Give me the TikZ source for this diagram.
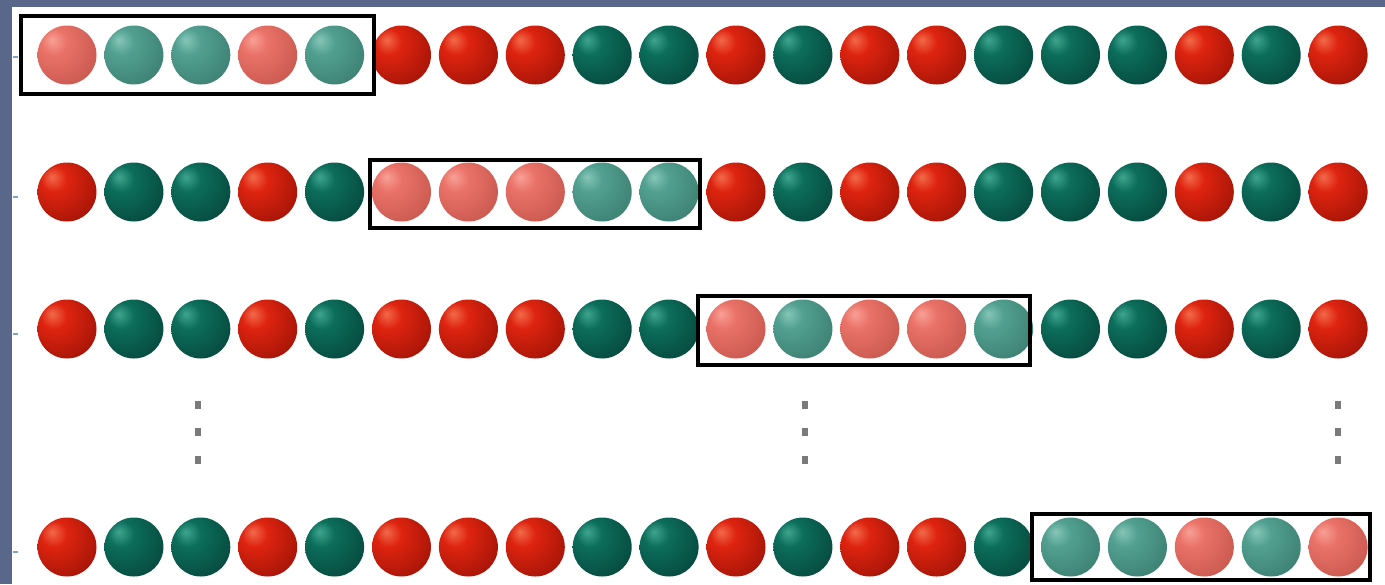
\documentclass[tikz,border=0pt]{standalone}
\definecolor{bgblue}{HTML}{58678A}
\definecolor{tickblue}{HTML}{7FA4CC}
\definecolor{dotgray}{HTML}{7A7A7A}
% red
\definecolor{RhlA}{HTML}{F26A4A}\definecolor{RbA}{HTML}{DE2410}\definecolor{RdA}{HTML}{9C1206}
% green
\definecolor{GhlA}{HTML}{3FA58F}\definecolor{GbA}{HTML}{0C6E5B}\definecolor{GdA}{HTML}{06443A}
% faded red (pink)
\definecolor{RhlB}{HTML}{F8A096}\definecolor{RbB}{HTML}{EA7268}\definecolor{RdB}{HTML}{C4554C}
% faded green (teal)
\definecolor{GhlB}{HTML}{86C6B8}\definecolor{GbB}{HTML}{52A091}\definecolor{GdB}{HTML}{3A7C6E}
\newcommand\mkballshade[4]{%
  \pgfdeclareradialshading{#1}{\pgfpoint{-13bp}{13bp}}{%
    color(0bp)=(#2); color(11bp)=(#3); color(40bp)=(#4); color(75bp)=(#4!75!black)}}
\mkballshade{ballR0}{RhlA}{RbA}{RdA}
\mkballshade{ballG0}{GhlA}{GbA}{GdA}
\mkballshade{ballR1}{RhlB}{RbB}{RdB}
\mkballshade{ballG1}{GhlB}{GbB}{GdB}
\tikzset{
  ballnode/.style={circle, minimum size=29.5pt, inner sep=0pt, shade},
  selbox/.style={line width=2.3pt, draw=black},
  rowdot/.style={fill=dotgray},
  tick/.style={draw=tickblue, line width=1.2pt}
}
\begin{document}
\begin{tikzpicture}[x=0.5pt, y=-0.5pt]
\useasboundingbox (0,0) rectangle (1385,584);
\fill[white] (0,0) rectangle (1385,584);
\fill[bgblue] (0,0) rectangle (1385,7);
\fill[bgblue] (0,0) rectangle (12,584);
% small marks at left edge
\foreach \y in {57,197,334,552} \draw[tick] (13,\y) -- (18,\y);
% balls
\foreach \row/\y in {1/55,2/192,3/329,4/547}{
  \foreach \c [count=\i] in {R,G,G,R,G,R,R,R,G,G,R,G,R,R,G,G,G,R,G,R}{
    \pgfmathtruncatemacro\f{and(\i>5*(\row-1), \i<=5*\row)}
    \edef\sh{ball\c\f}
    \node[ballnode, shading=\sh] (b\row-\i) at ({67+66.9*(\i-1)},\y) {};
  }
}
% selection boxes
\draw[selbox] (21,16) rectangle (374,94);
\draw[selbox] (370,160) rectangle (700,228);
\draw[selbox] (698,296) rectangle (1030,365);
\draw[selbox] (1032,514) rectangle (1370,580);
% vertical ellipsis dots
\foreach \x in {198,805,1338}
  \foreach \y in {405,432,460}
    \fill[rowdot] (\x-3,\y-4) rectangle (\x+3,\y+4);
\end{tikzpicture}
\end{document}
